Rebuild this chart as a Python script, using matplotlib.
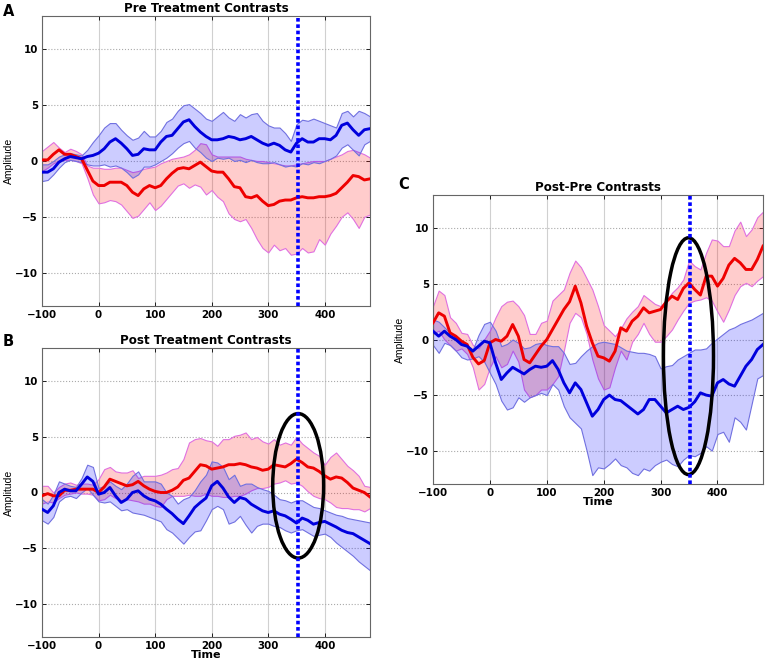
import matplotlib
matplotlib.use('Agg')
import matplotlib.pyplot as plt
from matplotlib.patches import Ellipse

# time axis (ms), one value every 10 ms
t = list(range(-100, 490, 10))

# ---- A: pre treatment ----
a_red_mean = [0.1, 0.1, 0.6, 1.0, 0.6, 0.6, 0.4, 0.2, -0.8, -1.8,
              -2.2, -2.2, -1.9, -1.9, -1.9, -2.2, -2.8, -3.1, -2.5, -2.2,
              -2.4, -2.2, -1.6, -1.1, -0.7, -0.6, -0.7, -0.4, -0.1, -0.5,
              -0.9, -1.0, -1.0, -1.6, -2.3, -2.4, -3.2, -3.3, -3.1, -3.6,
              -4.0, -3.9, -3.6, -3.5, -3.5, -3.3, -3.2, -3.3, -3.3, -3.2,
              -3.2, -3.1, -2.9, -2.4, -1.9, -1.3, -1.4, -1.7, -1.6]
a_red_hi = [0.9, 1.3, 1.7, 1.2, 0.8, 1.1, 0.9, 0.6, -0.4, -0.6,
            -0.6, -0.7, -0.7, -0.6, -0.6, -0.8, -1.0, -0.9, -0.7, -0.6,
            -0.5, -0.2, 0.0, 0.2, 0.3, 0.4, 0.6, 1.0, 1.6, 1.5,
            0.6, 0.4, 0.4, 0.4, 0.4, 0.4, 0.2, 0.1, 0.0, 0.0,
            -0.1, -0.2, -0.3, -0.4, -0.4, -0.3, -0.2, -0.1, 0.0, 0.0,
            0.0, 0.2, 0.4, 0.6, 0.9, 1.0, 0.8, 0.6, 0.3]
a_red_lo = [-0.9, -0.6, -0.2, 0.0, 0.1, 0.1, 0.0, -0.2, -1.5, -3.0,
            -3.8, -3.7, -3.5, -3.6, -3.9, -4.5, -5.1, -4.9, -4.3, -3.7,
            -4.4, -4.0, -3.4, -2.8, -2.2, -2.0, -2.4, -2.1, -2.3, -3.0,
            -2.6, -3.2, -3.6, -4.7, -5.2, -5.4, -5.2, -6.0, -7.0, -7.8,
            -8.2, -7.5, -8.0, -7.8, -8.4, -8.3, -7.8, -8.2, -8.1, -7.0,
            -7.5, -6.5, -5.8, -5.0, -4.6, -5.2, -6.0, -5.0, -4.8]
a_blue_mean = [-1.0, -1.0, -0.7, -0.1, 0.2, 0.4, 0.3, 0.2, 0.4, 0.5,
               0.7, 1.1, 1.7, 2.0, 1.6, 1.1, 0.5, 0.6, 1.1, 1.0,
               1.0, 1.7, 2.2, 2.3, 2.9, 3.5, 3.7, 3.1, 2.6, 2.2,
               1.9, 1.9, 2.0, 2.2, 2.1, 1.9, 2.0, 2.2, 1.9, 1.6,
               1.4, 1.6, 1.4, 1.0, 0.8, 1.6, 2.0, 1.7, 1.7, 2.0,
               2.0, 1.9, 2.3, 3.2, 3.4, 2.8, 2.3, 2.8, 2.9]
a_blue_hi = [-0.3, -0.3, 0.0, 0.4, 0.6, 0.7, 0.6, 0.5, 1.0, 1.7,
             2.3, 3.0, 3.4, 3.4, 2.8, 2.3, 1.9, 2.1, 2.7, 2.2,
             2.2, 2.7, 3.5, 3.8, 4.5, 5.0, 5.1, 4.7, 4.3, 3.8,
             3.6, 4.0, 4.4, 3.9, 3.6, 4.2, 3.9, 4.2, 4.3, 3.6,
             3.2, 3.0, 3.0, 2.5, 1.8, 3.3, 3.7, 3.6, 3.8, 3.6,
             3.4, 3.2, 3.0, 4.3, 4.5, 4.0, 4.5, 4.3, 4.0]
a_blue_lo = [-1.8, -1.7, -1.2, -0.6, -0.1, 0.1, 0.0, -0.1, -0.3, -0.4,
             -0.4, -0.3, -0.5, -0.4, -0.6, -1.0, -1.5, -1.2, -0.5, -0.5,
             -0.3, 0.0, 0.3, 0.7, 1.2, 1.6, 1.8, 1.2, 0.8, 0.3,
             0.0, 0.3, 0.2, 0.3, 0.0, 0.1, -0.1, 0.1, -0.1, -0.2,
             -0.2, -0.1, -0.3, -0.5, -0.4, -0.5, -0.2, -0.3, -0.1, -0.2,
             0.0, 0.2, 0.5, 1.2, 1.5, 1.0, 0.5, 1.5, 1.8]

# ---- B: post treatment ----
b_red_mean = [-0.3, -0.1, -0.3, -0.3, 0.2, 0.2, 0.3, 0.3, 0.3, 0.3,
              0.0, 0.5, 1.2, 1.0, 0.8, 0.6, 0.7, 1.0, 0.6, 0.3,
              0.1, 0.0, 0.0, 0.2, 0.5, 1.1, 1.3, 1.9, 2.5, 2.4,
              2.1, 2.2, 2.3, 2.5, 2.5, 2.6, 2.5, 2.3, 2.2, 2.0,
              2.1, 2.5, 2.4, 2.3, 2.6, 3.0, 2.7, 2.3, 2.2, 1.9,
              1.5, 1.2, 1.4, 1.3, 0.9, 0.4, 0.2, 0.0, -0.4]
b_red_hi = [0.6, 0.6, 0.0, 0.5, 0.8, 0.9, 0.7, 0.8, 0.8, 0.7,
            1.2, 2.1, 2.3, 1.9, 1.8, 1.8, 2.0, 1.3, 1.5, 1.5,
            1.5, 1.6, 1.8, 2.1, 2.2, 3.0, 4.5, 4.8, 4.9, 4.7,
            4.6, 4.2, 4.8, 4.8, 5.1, 5.2, 5.4, 4.8, 5.0, 4.6,
            4.4, 4.8, 4.3, 4.5, 4.3, 5.0, 4.4, 4.0, 3.6, 3.3,
            2.5, 3.2, 3.6, 3.0, 2.4, 2.0, 1.5, 0.6, 0.5]
b_red_lo = [-1.0, -0.8, -0.9, -0.5, -0.2, -0.1, 0.0, -0.1, -0.1, -0.2,
            -0.7, -0.6, -0.2, -0.5, -0.7, -0.6, -0.7, -0.8, -1.0, -1.0,
            -1.2, -1.3, -0.6, -0.3, -0.3, -0.3, -0.2, -0.3, -0.3, -0.1,
            -0.3, -0.3, -0.4, -0.4, -0.3, -0.3, -0.1, 0.2, 0.4, 0.4,
            0.5, 0.8, 0.9, 1.1, 0.8, 0.9, 0.6, 0.1, -0.3, -0.5,
            -0.6, -0.9, -1.3, -1.4, -1.4, -1.5, -1.5, -1.7, -1.4]
b_blue_mean = [-1.5, -1.8, -1.2, 0.0, 0.3, 0.15, 0.15, 0.75, 1.4, 1.0,
               -0.15, 0.0, 0.45, -0.3, -0.9, -0.6, 0.0, 0.15, -0.3, -0.6,
               -0.75, -1.05, -1.5, -1.9, -2.4, -2.8, -2.1, -1.35, -0.9, -0.5,
               0.6, 1.0, 0.4, -0.4, -0.9, -0.45, -0.6, -1.05, -1.35, -1.65,
               -1.8, -1.65, -1.95, -2.1, -2.4, -2.75, -2.3, -2.5, -2.85, -2.7,
               -2.6, -2.85, -3.1, -3.4, -3.6, -3.7, -4.0, -4.3, -4.6]
b_blue_hi = [-0.6, -1.0, -0.2, 1.0, 0.8, 0.6, 0.5, 1.3, 2.5, 2.3,
             0.4, 0.6, 1.0, 0.6, 0.3, 0.8, 1.5, 1.9, 1.0, 1.0,
             1.0, 0.8, 0.0, -0.3, -1.0, -0.6, -0.4, 0.2, 1.0, 1.6,
             2.8, 2.7, 2.3, 1.2, 1.6, 0.6, 0.8, 0.8, 0.5, 0.3,
             0.15, -0.2, -0.6, -0.7, -0.9, -0.7, -0.7, -1.0, -1.3, -1.4,
             -1.6, -1.8, -2.0, -2.1, -2.3, -2.4, -2.5, -2.6, -2.7]
b_blue_lo = [-2.5, -2.8, -2.2, -0.8, -0.4, -0.3, -0.5, 0.0, 0.4, -0.2,
             -0.8, -0.9, -0.8, -1.2, -1.6, -1.5, -1.8, -1.9, -2.0, -2.2,
             -2.4, -2.6, -3.3, -3.6, -4.1, -4.6, -4.0, -3.5, -3.4, -2.5,
             -1.5, -1.2, -1.5, -2.8, -2.6, -2.1, -2.9, -3.6, -3.0, -2.8,
             -2.8, -3.0, -3.1, -3.4, -3.6, -3.4, -3.3, -3.6, -3.9, -3.8,
             -3.7, -4.0, -4.5, -4.9, -5.3, -5.7, -6.2, -6.6, -7.0]

# ---- C: post minus pre ----
c_red_mean = [1.5, 2.4, 2.1, 0.6, 0.3, -0.15, -0.45, -1.6, -2.2, -1.9,
              -0.3, 0.0, -0.15, 0.3, 1.35, 0.3, -1.8, -2.1, -1.35, -0.6,
              0.0, 0.9, 1.8, 2.7, 3.4, 4.8, 3.3, 1.2, -0.3, -1.5,
              -1.65, -1.95, -1.05, 1.05, 0.75, 1.65, 2.1, 2.85, 2.4, 2.55,
              2.7, 3.4, 3.9, 3.6, 4.6, 5.1, 4.5, 4.0, 5.7, 5.7,
              4.8, 5.5, 6.7, 7.3, 6.9, 6.3, 6.3, 7.2, 8.4]
c_red_hi = [3.0, 4.4, 4.0, 2.0, 1.5, 0.6, 0.5, -0.5, -0.8, 0.0,
            0.8, 2.0, 3.0, 3.4, 3.5, 3.0, 2.2, 0.5, 0.5, 1.5,
            1.7, 3.5, 4.0, 4.5, 6.0, 7.1, 6.5, 5.5, 4.5, 3.0,
            1.3, 0.8, 0.3, 1.0, 1.9, 2.5, 3.0, 4.0, 3.6, 3.2,
            3.0, 3.5, 4.2, 4.7, 5.4, 7.1, 6.6, 6.3, 7.8, 9.0,
            8.9, 8.4, 8.4, 9.8, 10.6, 9.3, 9.9, 11.0, 11.5]
c_red_lo = [0.5, 0.8, 0.0, -0.5, -1.0, -0.8, -1.3, -2.5, -4.5, -4.0,
            -2.5, -1.5, -2.5, -2.2, -1.0, -2.0, -4.5, -5.2, -5.0, -4.5,
            -4.5, -4.0, -3.3, -1.0, 1.5, 2.4, 2.0, 0.5, -1.8, -3.5,
            -4.5, -4.3, -2.5, -1.0, -1.8, -0.2, 0.5, 1.5, 0.5, -0.2,
            -0.2, 0.3, 0.9, 1.8, 2.6, 3.3, 3.5, 3.6, 3.8, 3.5,
            2.5, 1.6, 2.7, 4.0, 4.8, 5.1, 4.8, 5.3, 5.7]
c_blue_mean = [0.75, 0.3, 0.75, 0.3, 0.0, -0.45, -0.6, -1.05, -0.6, -0.15,
               -0.3, -2.1, -3.6, -3.0, -2.5, -2.8, -3.1, -2.7, -2.4, -2.5,
               -2.4, -1.9, -2.7, -3.9, -4.8, -3.9, -4.5, -5.7, -6.9, -6.3,
               -5.4, -5.0, -5.4, -5.5, -5.9, -6.3, -6.7, -6.3, -5.4, -5.4,
               -6.0, -6.6, -6.3, -6.0, -6.3, -6.1, -5.6, -4.8, -5.0, -5.1,
               -3.9, -3.6, -4.0, -4.2, -3.3, -2.4, -1.8, -0.9, -0.45]
c_blue_hi = [1.8, 1.6, 1.1, 0.6, 0.2, -0.2, -0.5, -0.9, 0.4, 1.4,
             1.6, 0.8, -0.6, -0.4, 0.0, -0.3, -0.8, -0.7, -0.4, -0.3,
             -0.5, -0.6, -0.6, -1.2, -2.2, -2.1, -1.5, -1.0, -0.6, -0.3,
             -0.2, -0.3, -0.4, -0.7, -1.0, -1.1, -1.2, -1.2, -1.3, -1.5,
             -2.6, -2.4, -2.3, -1.8, -1.5, -1.2, -0.9, -0.9, -0.8, -0.3,
             0.1, 0.5, 0.9, 1.1, 1.4, 1.6, 1.8, 2.1, 2.4]
c_blue_lo = [-0.5, -1.2, -0.3, -0.5, -1.0, -1.6, -1.8, -1.7, -1.5, -2.0,
             -3.0, -4.0, -5.5, -6.3, -6.1, -5.2, -5.6, -5.2, -5.0, -4.8,
             -5.0, -4.0, -4.5, -6.0, -7.0, -7.5, -8.0, -10.0, -12.2, -11.5,
             -11.6, -11.2, -10.7, -11.3, -11.5, -12.0, -12.2, -11.6, -11.8, -11.3,
             -11.0, -10.8, -11.2, -11.4, -10.8, -10.4, -10.5, -10.2, -9.6, -10.0,
             -8.5, -8.3, -9.2, -7.0, -7.4, -8.1, -5.8, -3.5, -3.2]

MARK_T = 352

plt.rcParams['font.family'] = ['DejaVu Sans']
plt.rcParams['font.weight'] = 'bold'

fig = plt.figure(figsize=(7.67, 6.61), dpi=100)
W, H = 767.0, 661.0

def add_axes(left, top, w, h):
    return fig.add_axes([left / W, 1 - (top + h) / H, w / W, h / H])

def panel(ax, title, rm, rlo, rhi, bm, blo, bhi, ell=None, xlabel=None):
    ax.fill_between(t, rlo, rhi, facecolor=(1, 0, 0, 0.2), edgecolor='#e070e0', lw=0.8, zorder=2)
    ax.fill_between(t, blo, bhi, facecolor=(0, 0, 1, 0.2), edgecolor='#7070e0', lw=0.8, zorder=2)
    ax.plot(t, rm, color='#ee0000', lw=2.1, zorder=3)
    ax.plot(t, bm, color='#0000dd', lw=2.1, zorder=3)
    if ell is not None:
        ax.add_patch(Ellipse(ell[0], ell[1], ell[2], fill=False, ec='k', lw=2.5, zorder=4))
    ax.axvline(MARK_T, color='#0000ff', lw=2.6, ls=(0, (1.0, 0.75)), zorder=5)
    ax.set_xlim(-100, 480)
    ax.set_ylim(-13, 13)
    ax.set_xticks([-100, 0, 100, 200, 300, 400])
    ax.set_yticks([-10, -5, 0, 5, 10])
    ax.xaxis.grid(True, color='#d0d0d0', lw=0.8, ls='-')
    ax.yaxis.grid(True, color='#aaaaaa', lw=0.8, ls=':')
    ax.set_axisbelow(True)
    ax.tick_params(direction='in', length=3, top=True, right=True, labelsize=7.4, pad=3, width=0.6)
    for s in ax.spines.values():
        s.set_color('#666666')
        s.set_linewidth(0.8)
    ax.set_title(title, fontsize=8.6, fontweight='bold', pad=3)
    ax.set_ylabel('Amplitude', fontsize=7.5, fontweight='normal',
                  family=['Liberation Sans Narrow', 'Liberation Sans', 'DejaVu Sans'])
    ax.yaxis.set_label_coords(-0.085, 0.5)
    if xlabel:
        ax.set_xlabel(xlabel, fontsize=8, fontweight='bold', labelpad=-1)

axA = add_axes(42, 16, 328, 290)
panel(axA, 'Pre Treatment Contrasts', a_red_mean, a_red_lo, a_red_hi,
      a_blue_mean, a_blue_lo, a_blue_hi)

axB = add_axes(42, 348, 328, 289)
panel(axB, 'Post Treatment Contrasts', b_red_mean, b_red_lo, b_red_hi,
      b_blue_mean, b_blue_lo, b_blue_hi, ell=((353, 0.6), 90, 13.0), xlabel='Time')

axC = add_axes(433, 195, 330, 289)
panel(axC, 'Post-Pre Contrasts', c_red_mean, c_red_lo, c_red_hi,
      c_blue_mean, c_blue_lo, c_blue_hi, ell=((349, -1.5), 88, 21.3), xlabel='Time')

fig.text(3 / W, 1 - 12 / H, 'A', fontsize=10.5, fontweight='bold', va='center', ha='left')
fig.text(3 / W, 1 - 342 / H, 'B', fontsize=10.5, fontweight='bold', va='center', ha='left')
fig.text(398 / W, 1 - 184 / H, 'C', fontsize=10.5, fontweight='bold', va='center', ha='left')

fig.savefig('out.png', dpi=100)
